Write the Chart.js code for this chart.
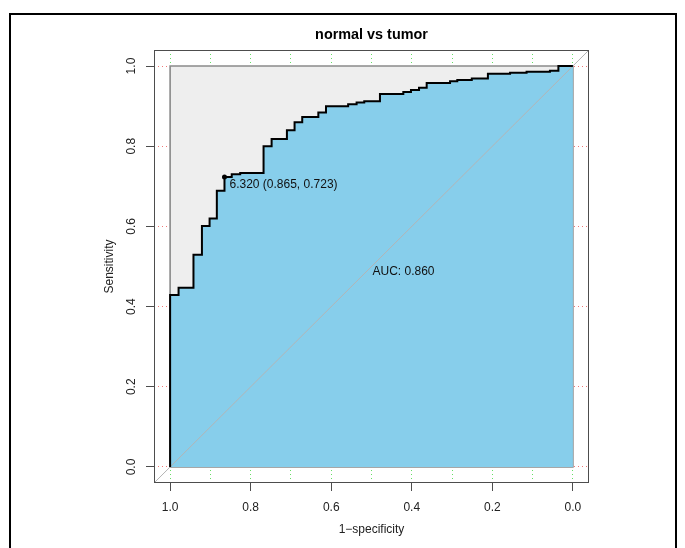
<!DOCTYPE html>
<html><head><meta charset="utf-8">
<script src="https://cdn.jsdelivr.net/npm/chart.js@4.4.1/dist/chart.umd.min.js"></script>
<style>
html,body{margin:0;padding:0;background:#fff;overflow:hidden;width:685px;height:548px;}
#frame{position:absolute;left:9px;top:13px;width:668px;height:600px;border:2px solid #000;box-sizing:border-box;}
#wrap{position:absolute;left:0;top:0;width:685px;height:548px;}
canvas{display:block;}
</style></head><body>
<div id="frame"></div>
<div id="wrap"><canvas id="c" width="685" height="548"></canvas></div>
<script>
// ---- data ----
const chartTitle = 'normal vs tumor';
const xTitle = '1\u2212specificity';
const yTitle = 'Sensitivity';
const specificity = [1.000, 1.000, 0.979, 0.942, 0.921, 0.902, 0.884, 0.865, 0.847, 0.826,
  0.768, 0.748, 0.710, 0.691, 0.672, 0.632, 0.613, 0.558, 0.537, 0.518,
  0.479, 0.421, 0.402, 0.382, 0.363, 0.305, 0.287, 0.251, 0.211, 0.156,
  0.115, 0.057, 0.036, 0.000];
const sensitivity = [0.000, 0.429, 0.447, 0.529, 0.601, 0.620, 0.689, 0.723, 0.730, 0.733,
  0.800, 0.818, 0.840, 0.860, 0.873, 0.884, 0.900, 0.905, 0.909, 0.912,
  0.930, 0.935, 0.940, 0.946, 0.958, 0.962, 0.965, 0.969, 0.981, 0.983,
  0.986, 0.988, 1.000, 1.000];
const xTickValues = [1.0, 0.9, 0.8, 0.7, 0.6, 0.5, 0.4, 0.3, 0.2, 0.1, 0.0];
const yTickValues = [0.0, 0.2, 0.4, 0.6, 0.8, 1.0];
const labelledTicks = [0.0, 0.2, 0.4, 0.6, 0.8, 1.0];
const bestThreshold = [6.320];
const bestSpec = [0.865];
const bestSens = [0.723];
const aucValue = [0.860];
const aucLabelPos = [0.5, 0.5];
const axisMin = -0.04, axisMax = 1.04;
const rectCornersX = [1, 1, 0, 0, 1];
const rectCornersY = [0, 1, 1, 0, 0];

const FONT = "'Liberation Sans', Arial, Helvetica, sans-serif";
Chart.defaults.font.family = FONT;

const pts = (xs, ys) => xs.map((x, i) => ({x: x, y: ys[i]}));
const isLabelled = v => labelledTicks.some(t => Math.abs(t - v) < 1e-6);

const decor = {
  id: 'decor',
  afterDatasetsDraw(chart) {
    const {ctx, chartArea: a, scales: {x, y}} = chart;
    ctx.save();
    ctx.strokeStyle = '#4d4d4d';
    ctx.lineWidth = 1;
    ctx.strokeRect(Math.round(a.left) + 0.5, Math.round(a.top) + 0.5,
                   Math.round(a.right - a.left) - 1, Math.round(a.bottom - a.top) - 1);
    ctx.fillStyle = '#111';
    ctx.font = '12px ' + FONT;
    ctx.textBaseline = 'middle';
    ctx.textAlign = 'left';
    const px = x.getPixelForValue(bestSpec[0]);
    const py = y.getPixelForValue(bestSens[0]);
    ctx.fillText(bestThreshold[0].toFixed(3) + ' (' + bestSpec[0].toFixed(3) + ', ' + bestSens[0].toFixed(3) + ')', px + 5, py + 7.5);
    ctx.fillText('AUC: ' + aucValue[0].toFixed(3), x.getPixelForValue(aucLabelPos[0]) + 1, y.getPixelForValue(aucLabelPos[1]) + 5);
    ctx.restore();
  }
};

new Chart(document.getElementById('c'), {
  type: 'line',
  data: {
    datasets: [
      { // max AUC rectangle fill
        data: pts([1, 0], [1, 1]), fill: 'origin', backgroundColor: '#eeeeee',
        borderWidth: 0, pointRadius: 0, order: 6
      },
      { // rectangle border
        data: pts(rectCornersX, rectCornersY), fill: false, borderColor: '#8a8a8a',
        borderWidth: 1.6, pointRadius: 0, order: 5
      },
      { // AUC polygon
        data: pts(specificity, sensitivity), stepped: 'before', fill: 'origin',
        backgroundColor: '#87ceeb', borderWidth: 0, pointRadius: 0, order: 4
      },
      { // identity line
        data: pts([axisMax, axisMin], [axisMin, axisMax]), fill: false, borderColor: '#b4b4b4',
        borderWidth: 1, pointRadius: 0, order: 3
      },
      { // ROC curve
        data: pts(specificity, sensitivity), stepped: 'before', fill: false,
        borderColor: '#000', borderWidth: 2, pointRadius: 0, order: 2
      },
      { // best threshold point
        data: pts(bestSpec, bestSens), showLine: false, pointRadius: 2.5,
        pointBackgroundColor: '#000', pointBorderWidth: 0, order: 1
      }
    ]
  },
  options: {
    responsive: false,
    animation: false,
    devicePixelRatio: 1,
    layout: { padding: { left: 96, right: 96, top: 0, bottom: 0 } },
    plugins: {
      legend: { display: false },
      tooltip: { enabled: false },
      title: {
        display: true, text: chartTitle, fullSize: false, color: '#000',
        font: { family: FONT, size: 14.4, weight: 'bold' },
        padding: { top: 26.36, bottom: 6.36 }
      }
    },
    scales: {
      x: {
        type: 'linear', reverse: true, min: axisMin, max: axisMax,
        afterBuildTicks: s => { s.ticks = xTickValues.map(v => ({value: v})); },
        afterFit: s => { s.height = 65; },
        ticks: {
          autoSkip: false, maxRotation: 0, minRotation: 0, padding: 9, color: '#222',
          font: { size: 12 },
          callback: v => isLabelled(v) ? v.toFixed(1) : ''
        },
        grid: {
          color: '#66dd66', lineWidth: 1, tickLength: 8, drawTicks: true,
          tickColor: c => (c.tick && isLabelled(c.tick.value)) ? '#4d4d4d' : 'rgba(0,0,0,0)'
        },
        border: { display: false, dash: [1, 3] },
        title: { display: true, text: xTitle, color: '#222', font: { size: 12 }, padding: { top: 0, bottom: 11.5 } }
      },
      y: {
        type: 'linear', min: axisMin, max: axisMax,
        afterBuildTicks: s => { s.ticks = yTickValues.map(v => ({value: v})); },
        afterFit: s => { s.width = 58; },
        ticks: {
          autoSkip: false, minRotation: 90, maxRotation: 90, crossAlign: 'center', padding: 6,
          color: '#222', font: { size: 12 },
          callback: v => v.toFixed(1)
        },
        grid: { color: '#ee7777', lineWidth: 1, tickLength: 8, tickColor: '#4d4d4d' },
        border: { display: false, dash: [1, 3] },
        title: { display: true, text: yTitle, color: '#222', font: { size: 12 }, padding: { top: 6.4, bottom: 0 } }
      }
    }
  },
  plugins: [decor]
});
</script>
</body></html>
